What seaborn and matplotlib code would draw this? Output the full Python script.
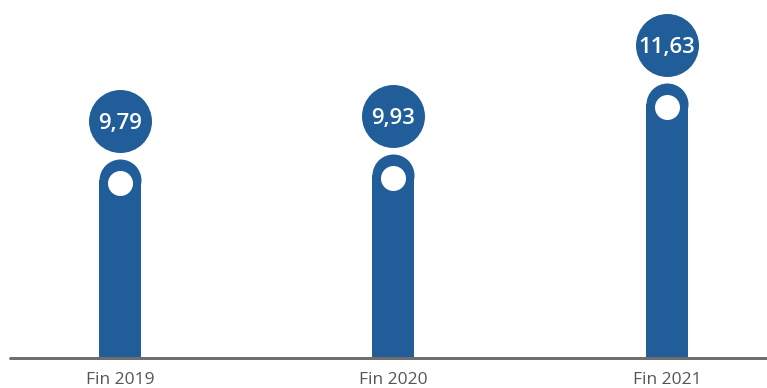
import matplotlib
matplotlib.use("Agg")
import matplotlib.pyplot as plt
import matplotlib.transforms as mtransforms
import seaborn as sns
import pandas as pd

# Data
categories = ["Fin 2019", "Fin 2020", "Fin 2021"]
values = [9.79, 9.93, 11.63]
value_labels = ["9,79", "9,93", "11,63"]

BLUE = "#215e99"
GREY_LINE = "#6f6f6f"
GREY_TEXT = "#555555"

sns.set_theme(style="white")
plt.rcParams["font.family"] = ["Open Sans", "DejaVu Sans"]

DPI = 100
fig = plt.figure(figsize=(7.67, 3.88), dpi=DPI)
ax = fig.add_axes([0, 30.5 / 388, 1, 1 - 30.5 / 388])

x_lo, x_hi = -0.4388, 2.366
y_lo, y_hi = 5.0, 13.64
ax.set_xlim(x_lo, x_hi)
ax.set_ylim(y_lo, y_hi)

# pixels per data unit in y (for the rounded caps)
ax_h_px = fig.get_figheight() * DPI * (1 - 30.5 / 388)
px_per_unit = ax_h_px / (y_hi - y_lo)
cap_r_px = 21
cap_r = cap_r_px / px_per_unit

df = pd.DataFrame({"cat": categories, "val": values})
df["shaft"] = df["val"] - cap_r
df["x"] = range(len(categories))

bar_w = 42 / (7.67 * DPI / (x_hi - x_lo))
sns.barplot(data=df, x="x", y="shaft", color=BLUE, width=bar_w,
            saturation=1, ax=ax, native_scale=True, linewidth=0, zorder=2)
ax.set_xlim(x_lo, x_hi)
ax.set_ylim(y_lo, y_hi)

pt = 72 / DPI
# rounded cap on top of each bar
ax.scatter(df["x"], df["shaft"], s=(2 * cap_r_px * pt) ** 2, color=BLUE,
           linewidths=0, zorder=3)
# white dot in the cap
ax.scatter(df["x"], df["shaft"] - 3 / px_per_unit, s=(25 * pt) ** 2,
           color="white", linewidths=0, zorder=4)

# value bubbles above the bars
bubble_tr = mtransforms.offset_copy(ax.transData, fig=fig, x=0, y=38, units="dots")
ax.scatter(df["x"], df["val"], s=(63 * pt) ** 2, color=BLUE, linewidths=0,
           zorder=5, transform=bubble_tr)
for xi, v, lab in zip(df["x"], df["val"], value_labels):
    ax.text(xi, v, lab, transform=bubble_tr, ha="center", va="center_baseline",
            color="white", fontsize=16, fontweight="semibold", zorder=6)

# baseline
ax.axhline(y_lo, xmin=10 / 767, xmax=1, color=GREY_LINE, lw=3 * pt,
           zorder=7, clip_on=False)

label_tr = mtransforms.offset_copy(ax.transData, fig=fig, x=0, y=-26, units="dots")
for xi, c in zip(df["x"], categories):
    ax.text(xi, y_lo, c, transform=label_tr, ha="center", va="baseline",
            color=GREY_TEXT, fontsize=12.5)

ax.set_axis_off()
fig.savefig("out.png", dpi=DPI)
